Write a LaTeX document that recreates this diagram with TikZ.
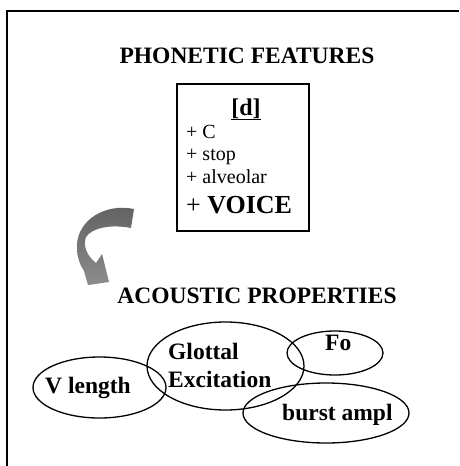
\documentclass[tikz,border=0pt]{standalone}
\usepackage{fontspec}
\setmainfont{Liberation Serif}
\usetikzlibrary{positioning,shapes.geometric}

\begin{document}
\begin{tikzpicture}[x=1pt,y=-1pt,
  head/.style={font=\fontsize{23.5}{28}\selectfont\bfseries,inner sep=0pt,anchor=base},
  feat/.style={font=\fontsize{20}{24}\selectfont,inner sep=0pt,anchor=base west},
  featbox/.style={draw,line width=1.4pt,inner sep=0pt},
  prop/.style={draw,ellipse,line width=1.3pt,inner sep=0pt},
  proptxt/.style={font=\fontsize{23.5}{27}\selectfont\bfseries,inner sep=0pt,anchor=base west}
]
\useasboundingbox (0,0) rectangle (459,466);
% frame
\draw[line width=1.6pt] (7,466) -- (7,11) -- (459,11);
% phonetic features
\node[head] (phon) at (247,63) {PHONETIC FEATURES};
\node[featbox,minimum width=132pt,minimum height=147pt] (box) at (243,157.5) {};
\node[feat,anchor=base,font=\fontsize{24}{28}\selectfont\bfseries] (seg) at (246,115) {\underline{[d]}};
\node[feat] (cons) at (186,138) {+ C};
\node[feat] (stop) at (186,160) {+ stop};
\node[feat] (alv) at (186,183) {+ alveolar};
\node[feat,font=\fontsize{26}{30}\selectfont] (voice) at (186,213) {+ \textbf{VOICE}};
% curved arrow
\shade[top color=black!62,bottom color=black!45]
  (134,209) .. controls (105,203) and (78,220) .. (77,245)
  .. controls (77,258) and (80,265) .. (84,271)
  -- (88,285) -- (109,282) -- (102,254) -- (96,263)
  .. controls (86,255) and (83,245) .. (86,237)
  .. controls (92,228) and (110,224) .. (131,228) -- cycle;
% acoustic properties
\node[head] (acou) at (257,303) {ACOUSTIC PROPERTIES};
\node[prop,minimum width=133pt,minimum height=61pt] (vlen) at (99.5,387.5) {};
\node[prop,minimum width=157pt,minimum height=88pt] (glot) at (225.5,366) {};
\node[prop,minimum width=96pt,minimum height=44pt] (fo) at (335,353) {};
\node[prop,minimum width=166pt,minimum height=60pt] (burst) at (326,413) {};
\node[proptxt] (vlentxt) at (45,393) {V length};
\node[proptxt] (glottxt) at (168,359) {Glottal};
\node[proptxt] (excitxt) at (168,387) {Excitation};
\node[proptxt] (fotxt) at (325,350) {Fo};
\node[proptxt] (bursttxt) at (282,420) {burst ampl};
\end{tikzpicture}
\end{document}
